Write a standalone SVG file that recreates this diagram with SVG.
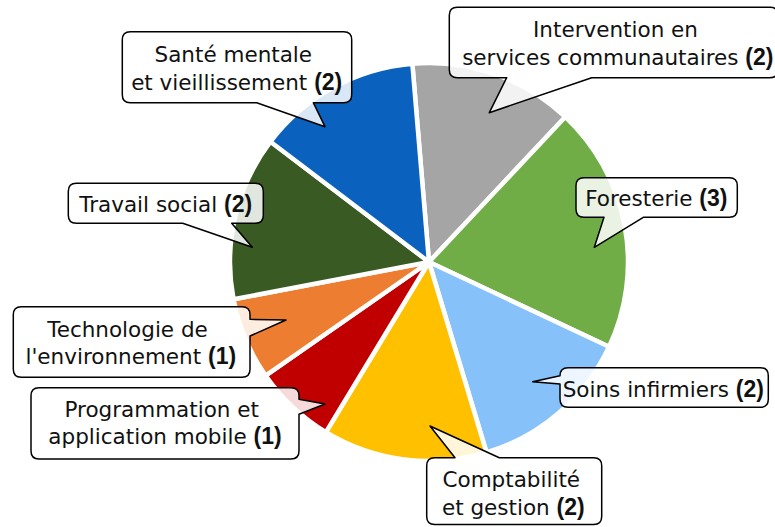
<svg xmlns="http://www.w3.org/2000/svg" width="775" height="527" viewBox="0 0 775 527">
<style>
.sl{stroke:#fff;stroke-width:4.5;stroke-linejoin:miter}
.co{fill:#fff;fill-opacity:0.85;stroke:#000;stroke-width:1.5;stroke-linejoin:round}
text{font-family:"DejaVu Sans","Liberation Sans",sans-serif;font-size:21.5px;fill:#111}
.b{font-family:"Liberation Sans",Arial,sans-serif;font-weight:bold;font-size:23px}
</style>
<rect width="775" height="527" fill="#fff"/>
<g id="pie">
<path id="s-intervention" class="sl" fill="#A5A5A5" d="M429,262 L412.35,63.7 A199,199 0 0 1 565.23,116.94 Z"/>
<path id="s-foresterie" class="sl" fill="#70AD47" d="M429,262 L565.23,116.94 A199,199 0 0 1 609.06,346.73 Z"/>
<path id="s-soins" class="sl" fill="#87C1F9" d="M429,262 L609.06,346.73 A199,199 0 0 1 486.52,452.51 Z"/>
<path id="s-compta" class="sl" fill="#FFC000" d="M429,262 L486.52,452.51 A199,199 0 0 1 325.91,432.22 Z"/>
<path id="s-prog" class="sl" fill="#C00000" d="M429,262 L325.91,432.22 A199,199 0 0 1 265.59,375.57 Z"/>
<path id="s-techno" class="sl" fill="#ED7D31" d="M429,262 L265.59,375.57 A199,199 0 0 1 233.52,299.29 Z"/>
<path id="s-travail" class="sl" fill="#3A5A24" d="M429,262 L233.52,299.29 A199,199 0 0 1 270.49,141.68 Z"/>
<path id="s-sante" class="sl" fill="#0A61BE" d="M429,262 L270.49,141.68 A199,199 0 0 1 412.35,63.7 Z"/>
</g>
<g id="connectors"></g>
<g id="n-sante">
<path class="co" d="M130.3,31.7 H343.7 Q351.7,31.7 351.7,39.7 V94.7 Q351.7,102.7 343.7,102.7 H313.3 L325,126.7 L256.7,102.7 H130.3 Q122.3,102.7 122.3,94.7 V39.7 Q122.3,31.7 130.3,31.7 Z"/>
<text x="233.3" y="62" text-anchor="middle">Santé mentale</text>
<text x="236.7" y="90" text-anchor="middle">et vieillissement <tspan class="b">(2)</tspan></text>
</g>
<g id="n-intervention">
<path class="co" d="M457.3,7.3 H770 Q778,7.3 778,15.3 V69.7 Q778,77.7 770,77.7 H591.7 L489.3,112.7 L506.7,77.7 H457.3 Q449.3,77.7 449.3,69.7 V15.3 Q449.3,7.3 457.3,7.3 Z"/>
<text x="615.5" y="37.3" text-anchor="middle">Intervention en</text>
<text x="617.8" y="65" text-anchor="middle">services communautaires <tspan class="b">(2)</tspan></text>
</g>
<g id="n-travail">
<path class="co" d="M76.3,183.3 H255.3 Q263.3,183.3 263.3,191.3 V215.3 Q263.3,223.3 255.3,223.3 H231.7 L252.3,247.3 L182.7,223.3 H76.3 Q68.3,223.3 68.3,215.3 V191.3 Q68.3,183.3 76.3,183.3 Z"/>
<text x="165.7" y="212.3" text-anchor="middle">Travail social <tspan class="b">(2)</tspan></text>
</g>
<g id="n-foresterie">
<path class="co" d="M584,177.7 H729.3 Q737.3,177.7 737.3,185.7 V209.3 Q737.3,217.3 729.3,217.3 H643.3 L594.3,247.3 L604,217.3 H584 Q576,217.3 576,209.3 V185.7 Q576,177.7 584,177.7 Z"/>
<text x="656.3" y="205.7" text-anchor="middle">Foresterie <tspan class="b">(3)</tspan></text>
</g>
<g id="n-techno">
<path class="co" d="M21.3,306.7 H242 Q250,306.7 250,314.7 V319.3 L286,320 L250,336 V369.3 Q250,377.3 242,377.3 H21.3 Q13.3,377.3 13.3,369.3 V314.7 Q13.3,306.7 21.3,306.7 Z"/>
<text x="127.5" y="337.3" text-anchor="middle">Technologie de</text>
<text x="130.8" y="364.3" text-anchor="middle">l'environnement <tspan class="b">(1)</tspan></text>
</g>
<g id="n-prog">
<path class="co" d="M39,387.7 H291 Q299,387.7 299,395.7 V399.3 L325,404 L299,414.3 V451 Q299,459 291,459 H39 Q31,459 31,451 V395.7 Q31,387.7 39,387.7 Z"/>
<text x="161.7" y="417.3" text-anchor="middle">Programmation et</text>
<text x="165" y="444.3" text-anchor="middle">application mobile <tspan class="b">(1)</tspan></text>
</g>
<g id="n-soins">
<path class="co" d="M568,367.7 H760.3 Q768.3,367.7 768.3,375.7 V399.3 Q768.3,407.3 760.3,407.3 H568 Q560,407.3 560,399.3 V384 L532.7,381.7 L560,375.7 Q560,367.7 568,367.7 Z"/>
<text x="663.3" y="396.7" text-anchor="middle">Soins infirmiers <tspan class="b">(2)</tspan></text>
</g>
<g id="n-compta">
<path class="co" d="M434.7,457.7 H455 L430,426 L499.3,457.7 H593.7 Q601.7,457.7 601.7,465.7 V516.5 Q601.7,524.5 593.7,524.5 H434.7 Q426.7,524.5 426.7,516.5 V465.7 Q426.7,457.7 434.7,457.7 Z"/>
<text x="511.3" y="487.3" text-anchor="middle">Comptabilité</text>
<text x="513.3" y="515" text-anchor="middle">et gestion <tspan class="b">(2)</tspan></text>
</g>
</svg>
